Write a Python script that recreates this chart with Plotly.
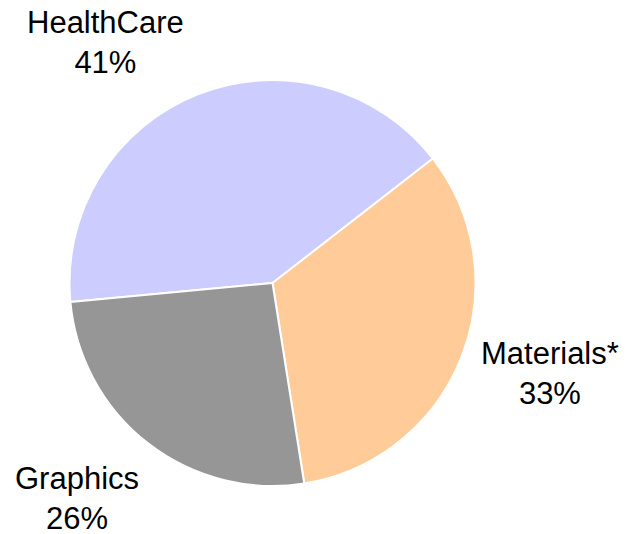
import plotly.graph_objects as go

labels = ["HealthCare", "Materials*", "Graphics"]
values = [41, 33, 26]
colors = ["#CCCCFF", "#FFCC99", "#969696"]

# page has an 8px body margin; figure is sized to fit the window
OFF = 8
W, H = 627 - OFF, 534 - OFF
cx, cy, r = 272.5 - OFF, 283 - OFF, 203

# label centres (page pixels)
label_px = [(105, 43), (550, 373), (77, 498)]
label_pos = [((x - OFF) / W, 1 - (y - OFF) / H) for x, y in label_px]

total = sum(values)
fig = go.Figure(go.Pie(
    labels=labels,
    values=values,
    sort=False,
    direction="clockwise",
    rotation=-95.4,
    marker=dict(colors=colors, line=dict(color="white", width=2)),
    textinfo="none",
    hoverinfo="label+percent",
    domain=dict(x=[(cx - r) / W, (cx + r) / W], y=[(H - cy - r) / H, (H - cy + r) / H]),
    showlegend=False,
))

for lab, val, (x, y) in zip(labels, values, label_pos):
    fig.add_annotation(
        x=x, y=y, xref="paper", yref="paper",
        text=f"{lab}<br>{round(val / total * 100)}%",
        showarrow=False, xanchor="center", yanchor="middle",
        font=dict(family="Liberation Sans, Arial, sans-serif", size=31, color="black"),
    )

fig.update_layout(
    width=W, height=H,
    margin=dict(l=0, r=0, t=0, b=0),
    paper_bgcolor="white", plot_bgcolor="white",
)
fig.write_html("out.html")
